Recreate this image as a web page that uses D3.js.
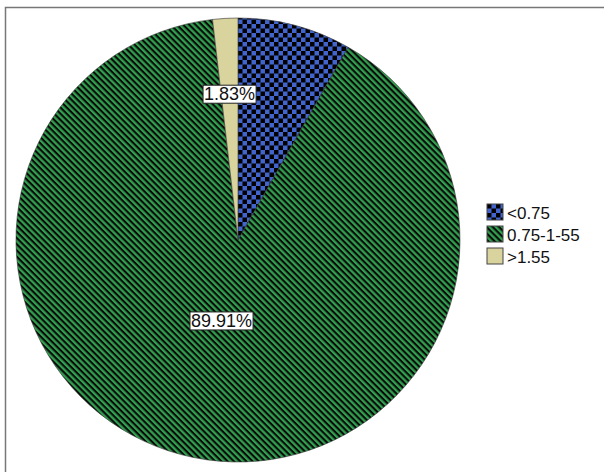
<!DOCTYPE html>
<html lang="en">
<head>
    <meta charset="UTF-8">
    <title>Pie chart</title>
    <script src="https://d3js.org/d3.v7.min.js"></script>
    <style>
        body { margin: 0; background: #fff; }
        text { font-family: "Liberation Sans", Arial, sans-serif; }
    </style>
</head>
<body>
    <script>
        // data
        const categories = ["<0.75", "0.75-1-55", ">1.55"];
        const percents = [8.26, 89.91, 1.83];
        const labelText = [null, "89.91%", "1.83%"];

        const w = 604;
        const h = 472;
        const cx = 238, cy = 240, r = 222;

        const svg = d3.select("body")
            .append("svg")
            .attr("width", w)
            .attr("height", h);

        const defs = svg.append("defs");

        // checker pattern for first slice
        const chk = defs.append("pattern")
            .attr("id", "pat0")
            .attr("patternUnits", "userSpaceOnUse")
            .attr("width", 9)
            .attr("height", 9);
        chk.append("rect").attr("width", 9).attr("height", 9).attr("fill", "#4165cc");
        chk.append("rect").attr("width", 4.5).attr("height", 4.5).attr("fill", "#000");
        chk.append("rect").attr("x", 4.5).attr("y", 4.5).attr("width", 4.5).attr("height", 4.5).attr("fill", "#000");

        // diagonal stripes for second slice
        const str = defs.append("pattern")
            .attr("id", "pat1")
            .attr("patternUnits", "userSpaceOnUse")
            .attr("width", 4.4)
            .attr("height", 10)
            .attr("patternTransform", "rotate(-45)");
        str.append("rect").attr("width", 4.4).attr("height", 10).attr("fill", "#0a0a0a");
        str.append("rect").attr("width", 2.3).attr("height", 10).attr("fill", "#31a04f");

        const fills = ["url(#pat0)", "url(#pat1)", "#d9d39e"];
        const color = d3.scaleOrdinal().domain(categories).range(fills);

        // frame
        svg.append("path")
            .attr("d", `M5.5,${h} V7.5 H${w}`)
            .attr("fill", "none")
            .attr("stroke", "#777")
            .attr("stroke-width", 1.5);

        const data = categories.map((c, i) => ({cat: c, value: percents[i], label: labelText[i]}));

        const pie = d3.pie().value(d => d.value).sort(null);
        const arc = d3.arc().innerRadius(0).outerRadius(r);
        const arcs = pie(data);

        const g = svg.append("g").attr("transform", `translate(${cx},${cy})`);

        g.selectAll("path.slice")
            .data(arcs)
            .enter()
            .append("path")
            .attr("class", "slice")
            .attr("d", arc)
            .attr("fill", d => color(d.data.cat))
            .attr("stroke", "#333")
            .attr("stroke-width", 0.6);

        // labels
        const labelRadius = [0, 0.37, 0.66];
        const lab = g.selectAll("g.lab")
            .data(arcs.filter(d => d.data.label))
            .enter()
            .append("g")
            .attr("class", "lab")
            .attr("transform", d => {
                const i = categories.indexOf(d.data.cat);
                const la = d3.arc().innerRadius(r * labelRadius[i]).outerRadius(r * labelRadius[i]);
                const [x, y] = la.centroid(d);
                return `translate(${x},${y})`;
            });

        lab.append("text")
            .attr("text-anchor", "middle")
            .attr("dy", "0.36em")
            .attr("font-size", 18)
            .attr("fill", "#111")
            .text(d => d.data.label)
            .each(function() {
                const b = this.getBBox();
                d3.select(this.parentNode).insert("rect", "text")
                    .attr("x", b.x - 1)
                    .attr("y", b.y + 1)
                    .attr("width", b.width + 2)
                    .attr("height", b.height - 2)
                    .attr("fill", "#fff")
                    .attr("stroke", "#222")
                    .attr("stroke-width", 1);
            });

        // legend
        const legend = svg.append("g").attr("transform", "translate(487,204)");
        const item = legend.selectAll("g")
            .data(categories)
            .enter()
            .append("g")
            .attr("transform", (d, i) => `translate(0,${i * 22})`);
        item.append("rect")
            .attr("width", 16)
            .attr("height", 16)
            .attr("fill", d => color(d))
            .attr("stroke", "#444")
            .attr("stroke-width", 1);
        item.append("text")
            .attr("x", 20)
            .attr("y", 15)
            .attr("font-size", 17)
            .attr("fill", "#111")
            .text(d => d);
    </script>
</body>
</html>
